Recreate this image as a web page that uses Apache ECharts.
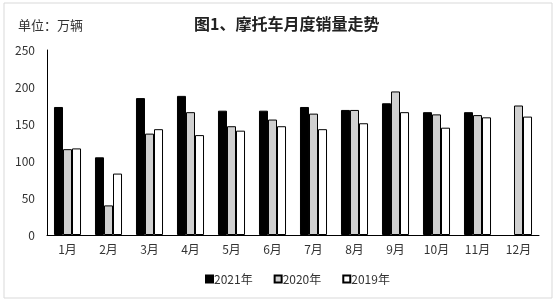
<!DOCTYPE html>
<html><head><meta charset="utf-8">
<script src="https://cdn.jsdelivr.net/npm/echarts@6/dist/echarts.min.js"></script>
<style>html,body{margin:0;padding:0;background:#fff}#c{width:558px;height:304px}</style>
</head><body><div id="c"></div>
<script>
const categories = ['1月','2月','3月','4月','5月','6月','7月','8月','9月','10月','11月','12月'];
const s2021 = [173, 105, 185, 188, 168, 168, 173, 169, 178, 166, 166, null];
const s2020 = [116, 40, 137, 166, 147, 156, 164, 169, 194, 163, 162, 175];
const s2019 = [117, 83, 143, 135, 141, 147, 143, 151, 166, 145, 159, 160];
const yTicks = [0, 50, 100, 150, 200, 250];

const font = '"Noto Sans CJK SC", sans-serif';
const chart = echarts.init(document.getElementById('c'), null, {renderer: 'canvas'});
const barBase = {type: 'bar', barGap: '0%', barCategoryGap: '34%'};
chart.setOption({
  animation: false,
  textStyle: {fontFamily: font},
  graphic: [
    {type: 'rect', shape: {x: 4, y: 3, width: 548, height: 295}, style: {fill: 'none', stroke: '#d9d9d9', lineWidth: 1}},
    {type: 'text', left: 18, top: 19, style: {text: '单位：万辆', font: '13px ' + font, fill: '#333'}}
  ],
  title: {text: '图1、摩托车月度销量走势', left: 189, top: 11,
    textStyle: {fontSize: 16, fontWeight: 'bold', color: '#222', fontFamily: font}},
  legend: {bottom: 14, left: 200, icon: 'rect', itemWidth: 7, itemHeight: 7, itemGap: 21,
    textStyle: {fontSize: 12, color: '#333', padding: [0,0,0,-4]},
    data: ['2021年','2020年','2019年']},
  grid: {left: 47, right: 19, top: 50, bottom: 69},
  xAxis: {type: 'category', data: categories,
    axisLine: {lineStyle: {color: '#000', width: 1}}, axisTick: {show: false},
    axisLabel: {color: '#333', fontSize: 12, margin: 8}},
  yAxis: {type: 'value', min: 0, max: 250, interval: 50,
    axisLine: {show: true, lineStyle: {color: '#000', width: 1}}, axisTick: {show: false},
    splitLine: {show: false},
    axisLabel: {color: '#333', fontSize: 12, margin: 12,
      formatter: v => yTicks.includes(v) ? String(v) : ''}},
  series: [
    Object.assign({}, barBase, {name: '2021年', data: s2021, itemStyle: {color: '#000', borderColor: '#000', borderWidth: 1}}),
    Object.assign({}, barBase, {name: '2020年', data: s2020, itemStyle: {color: '#d0d0d0', borderColor: '#000', borderWidth: 1}}),
    Object.assign({}, barBase, {name: '2019年', data: s2019, itemStyle: {color: '#fff', borderColor: '#000', borderWidth: 1}})
  ]
});
</script></body></html>
